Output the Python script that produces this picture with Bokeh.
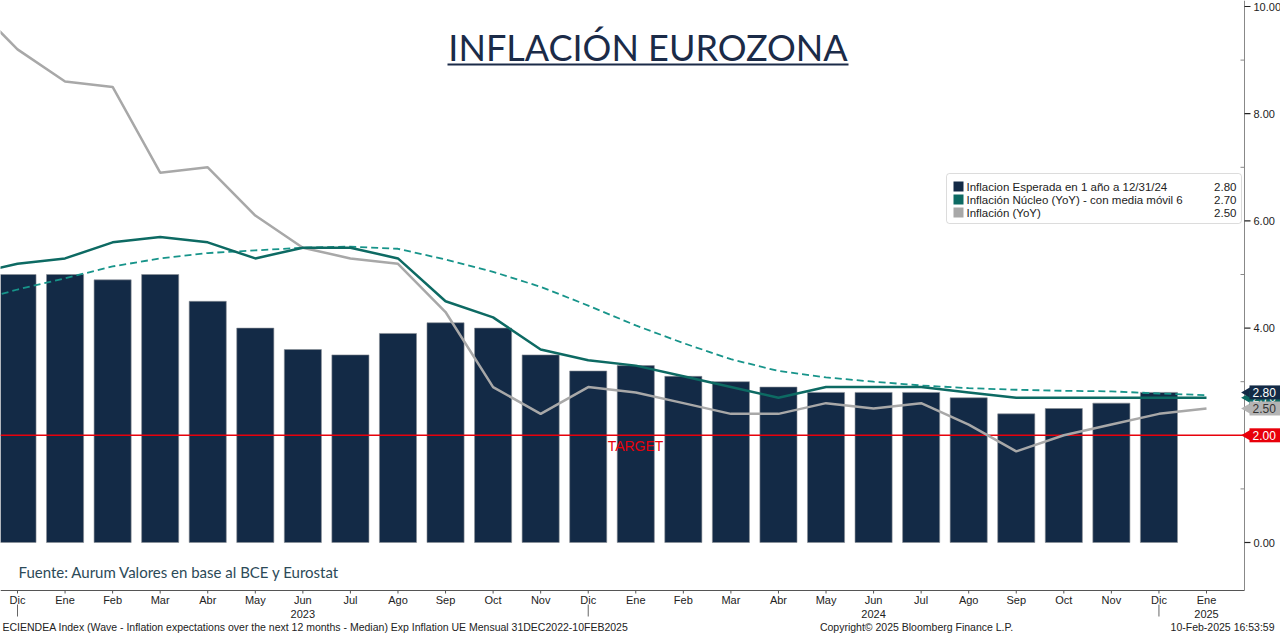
import math
from bokeh.plotting import figure
from bokeh.models import Range1d, Label, BoxAnnotation
from bokeh.core.properties import value
from bokeh.embed import file_html
from bokeh.resources import INLINE

# ---------------- data ----------------
months = ["Dic", "Ene", "Feb", "Mar", "Abr", "May", "Jun", "Jul", "Ago", "Sep", "Oct", "Nov",
          "Dic", "Ene", "Feb", "Mar", "Abr", "May", "Jun", "Jul", "Ago", "Sep", "Oct", "Nov",
          "Dic", "Ene"]
year_pos = [6, 18, 25]
year_text = ["2023", "2024", "2025"]
year_breaks = [0, 12, 24]

# Inflation expected in 1 year (bars), Dic 2022 .. Dic 2024
expected = [5.0, 5.0, 4.9, 5.0, 4.5, 4.0, 3.6, 3.5, 3.9, 4.1, 4.0, 3.5,
            3.2, 3.3, 3.1, 3.0, 2.9, 2.8, 2.8, 2.8, 2.7, 2.4, 2.5, 2.6, 2.8]
bar_idx = list(range(len(expected)))

# Lines, Nov 2022 (index -1) .. Ene 2025 (index 25)
line_idx = list(range(-1, 26))
headline = [10.1, 9.2, 8.6, 8.5, 6.9, 7.0, 6.1, 5.5, 5.3, 5.2, 4.3, 2.9, 2.4,
            2.9, 2.8, 2.6, 2.4, 2.4, 2.6, 2.5, 2.6, 2.2, 1.7, 2.0, 2.2, 2.4, 2.5]
core = [5.0, 5.2, 5.3, 5.6, 5.7, 5.6, 5.3, 5.5, 5.5, 5.3, 4.5, 4.2, 3.6,
        3.4, 3.3, 3.1, 2.9, 2.7, 2.9, 2.9, 2.9, 2.8, 2.7, 2.7, 2.7, 2.7, 2.7]
core_ma6 = [4.47, 4.72, 4.93, 5.15, 5.30, 5.40, 5.45, 5.50, 5.52, 5.48, 5.28, 5.05, 4.77,
            4.42, 4.05, 3.72, 3.42, 3.20, 3.08, 3.00, 2.93, 2.88, 2.85, 2.83, 2.82, 2.78, 2.75]
target = 2.0

legend_names = ["Inflacion Esperada en 1 año a 12/31/24",
                "Inflación Núcleo (YoY) - con media móvil 6",
                "Inflación (YoY)"]
legend_values = ["2.80", "2.70", "2.50"]
# last values shown as tags on the right axis (drawn in this order)
tag_values = [2.70, 2.50, 2.80]
y_ticks = [0, 2, 4, 6, 8, 10]
y_minor = [1, 3, 5, 7, 9]

# ---------------- styling / geometry ----------------
NAVY = "#132a46"
TEAL = "#0d6a63"
TEAL_D = "#17948a"
GRAY = "#a8a8a8"
RED = "#e8000b"
INK = "#222222"
BFONT = "Liberation Sans"

W, H = 1280, 633
XPX = 47.56   # px per month
YPX = 53.6    # px per unit
AX_X = 1244   # right axis position (px)
AX_Y = 590    # bottom axis position (px)
x0 = -17 / XPX
x1 = x0 + W / XPX
y1 = 542 / YPX
y0 = y1 - H / YPX


def px_x(px):
    return x0 + px / XPX


def px_y(py):
    return y1 - py / YPX


p = figure(width=W, height=H, output_backend="svg", toolbar_location=None,
           x_range=Range1d(x0, x1), y_range=Range1d(y0, y1),
           x_axis_location=None, y_axis_location=None,
           min_border=0, background_fill_color="white", border_fill_color="white")
p.outline_line_color = None
p.grid.visible = False

# bars
p.vbar(x=bar_idx, top=expected, bottom=0, width=0.78, fill_color=NAVY,
       line_color="#8a8f96", line_width=0.6)

# target line
p.segment(x0=[px_x(0)], x1=[px_x(AX_X)], y0=[target], y1=[target], line_color=RED, line_width=1.6)

# lines
p.line(line_idx, core_ma6, line_color=TEAL_D, line_width=1.8, line_dash="7 4")
p.line(line_idx, headline, line_color=GRAY, line_width=2.5)
p.line(line_idx, core, line_color=TEAL, line_width=2.5)

# white area beyond the axes (glyph masks, drawn before the axis glyphs)
p.quad(left=[px_x(AX_X), px_x(0)], right=[px_x(W), px_x(W)],
       top=[px_y(0), px_y(AX_Y)], bottom=[px_y(H), px_y(H)],
       fill_color="white", line_color=None)

# ---- bottom axis ----
p.segment(x0=[px_x(0)], x1=[px_x(AX_X)], y0=[px_y(AX_Y)], y1=[px_y(AX_Y)],
          line_color="#555555", line_width=1)
m_idx = list(range(len(months)))
p.segment(x0=m_idx, x1=m_idx, y0=[px_y(AX_Y)] * len(m_idx), y1=[px_y(AX_Y + 3)] * len(m_idx),
          line_color="#555555", line_width=1)
p.text(x=m_idx, y=[px_y(599)] * len(m_idx), text=months, text_align="center",
       text_baseline="middle", text_font=value(BFONT), text_font_size=value("11px"),
       text_color=INK)
p.text(x=year_pos, y=[px_y(613)] * len(year_pos), text=year_text, text_align="center",
       text_baseline="middle", text_font=value(BFONT), text_font_size=value("11px"),
       text_color=INK)
p.segment(x0=year_breaks, x1=year_breaks, y0=[px_y(604)] * 3, y1=[px_y(616)] * 3,
          line_color="#666666", line_width=1)

# ---- right axis ----
p.segment(x0=[px_x(AX_X)], x1=[px_x(AX_X)], y0=[px_y(0)], y1=[px_y(AX_Y)],
          line_color="#888888", line_width=1)
p.segment(x0=[px_x(AX_X)] * len(y_ticks), x1=[px_x(AX_X + 6)] * len(y_ticks),
          y0=y_ticks, y1=y_ticks, line_color=INK, line_width=1.2)
p.segment(x0=[px_x(AX_X - 4)] * len(y_minor), x1=[px_x(AX_X)] * len(y_minor),
          y0=y_minor, y1=y_minor, line_color="#888888", line_width=1)
p.text(x=[px_x(AX_X + 9)] * len(y_ticks), y=y_ticks, text=[f"{v:.2f}" for v in y_ticks],
       text_align="left", text_baseline="middle", text_font=value(BFONT),
       text_font_size=value("11px"), text_color=INK)

# ---- right axis value tags ----
tag_colors = {2.80: NAVY, 2.70: TEAL, 2.50: "#b4b4b4"}
tag_tcol = {2.80: "white", 2.70: "white", 2.50: "#333333"}
for v in tag_values:
    c = tag_colors[v]
    p.add_layout(BoxAnnotation(left=px_x(AX_X + 5), right=px_x(W), top=v + 7 / YPX,
                               bottom=v - 7 / YPX, fill_color=c, fill_alpha=1, line_color=None))
    p.scatter(x=[px_x(AX_X + 3)], y=[v], marker="triangle", size=11, angle=math.pi / 2,
              fill_color=c, line_color=None)
    p.add_layout(Label(x=px_x(AX_X + 8), y=v, text=f"{v:.2f}", text_align="left",
                       text_baseline="middle", text_font=BFONT, text_font_size="12px",
                       text_color=tag_tcol[v]))
p.add_layout(BoxAnnotation(left=px_x(AX_X + 5), right=px_x(W), top=target + 7 / YPX,
                           bottom=target - 7 / YPX, fill_color=RED, fill_alpha=1, line_color=None))
p.scatter(x=[px_x(AX_X + 3)], y=[target], marker="triangle", size=11, angle=math.pi / 2,
          fill_color=RED, line_color=None)
p.add_layout(Label(x=px_x(AX_X + 8), y=target, text=f"{target:.2f}", text_align="left",
                   text_baseline="middle", text_font=BFONT, text_font_size="12px",
                   text_color="white"))

# ---- title + underline ----
p.add_layout(Label(x=px_x(647.5), y=px_y(46), text="INFLACIÓN EUROZONA", text_align="center",
                   text_baseline="middle", text_font="Lato", text_font_size="36px",
                   text_color="#1b2b48"))
p.add_layout(BoxAnnotation(left=px_x(447), right=px_x(848), top=px_y(63), bottom=px_y(65),
                           fill_color="#1b2b48", fill_alpha=1, line_color=None))

# TARGET
p.add_layout(Label(x=px_x(635), y=px_y(445), text="TARGET", text_align="center",
                   text_baseline="middle", text_font="'Liberation Sans Narrow', 'Liberation Sans'",
                   text_font_size="14px", text_color=RED))

# source
p.add_layout(Label(x=px_x(18), y=px_y(571), text="Fuente: Aurum Valores en base al BCE y Eurostat",
                   text_align="left", text_baseline="middle", text_font="Lato",
                   text_font_size="15px", text_color="#2c4a58"))

# ---- legend ----
p.add_layout(BoxAnnotation(left=px_x(946), right=px_x(1241), top=px_y(173), bottom=px_y(223),
                           fill_color="white", fill_alpha=1, line_color="#8a8a8a",
                           line_width=1, border_radius=3))
sw_colors = [NAVY, TEAL, GRAY]
row_py = [186, 199, 212]
for name, val, col, py in zip(legend_names, legend_values, sw_colors, row_py):
    p.add_layout(BoxAnnotation(left=px_x(953), right=px_x(963), top=px_y(py - 5), bottom=px_y(py + 5),
                               fill_color=col, fill_alpha=1, line_color=None))
    p.add_layout(Label(x=px_x(966), y=px_y(py), text=name, text_align="left", text_baseline="middle",
                       text_font=BFONT, text_font_size="11.5px", text_color=INK))
    p.add_layout(Label(x=px_x(1236), y=px_y(py), text=val, text_align="right", text_baseline="middle",
                       text_font=BFONT, text_font_size="11.5px", text_color=INK))

# ---- bloomberg footer ----
p.add_layout(Label(x=px_x(2), y=px_y(626),
                   text="ECIENDEA Index (Wave - Inflation expectations over the next 12 months - Median) Exp Inflation UE  Mensual 31DEC2022-10FEB2025",
                   text_align="left", text_baseline="middle", text_font=BFONT,
                   text_font_size="10.5px", text_color=INK))
p.add_layout(Label(x=px_x(916), y=px_y(626), text="Copyright© 2025 Bloomberg Finance L.P.",
                   text_align="center", text_baseline="middle", text_font=BFONT,
                   text_font_size="10.5px", text_color=INK))
p.add_layout(Label(x=px_x(1274), y=px_y(626), text="10-Feb-2025 16:53:59",
                   text_align="right", text_baseline="middle", text_font=BFONT,
                   text_font_size="10.5px", text_color=INK))

open("out.html", "w").write(file_html(p, INLINE))
